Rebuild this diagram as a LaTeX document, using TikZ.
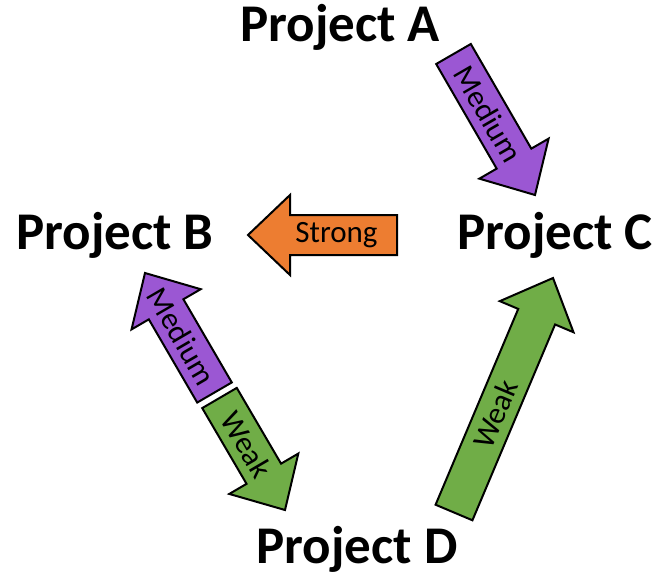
\documentclass[tikz,border=0pt]{standalone}
\usepackage{fontspec}
\setmainfont{Carlito}
\usetikzlibrary{calc,positioning}
\definecolor{purp}{HTML}{9B57D3}
\definecolor{orng}{HTML}{ED7D31}
\definecolor{grn}{HTML}{70AD47}
\tikzset{
  project/.style={anchor=base, font=\bfseries\fontsize{53}{60}\selectfont},
  blockarrow/.style={draw=black, line width=2pt, line join=miter},
  arrowtext/.style={font=\fontsize{31}{36}\selectfont, inner sep=0pt}
}
% block arrow: [text pos] {tail} {tip} {colour} {text}
\newcommand{\bigarrow}[5][0.42]{%
  \draw[blockarrow, fill=#4] let \p1=($(#3)-(#2)$), \n1={atan2(\y1,\x1)}, \n2={veclen(\x1,\y1)} in
    [shift={(#2)}, rotate=\n1]
    (0,-20) -- (\n2-42,-20) -- (\n2-42,-40) -- (\n2,0) -- (\n2-42,40) -- (\n2-42,20) -- (0,20) -- cycle;
  \path (#2) -- (#3) node[pos=#1, sloped, arrowtext] {#5};
}

\begin{document}
\begin{tikzpicture}[x=1pt, y=-1pt]
\useasboundingbox (0,0) rectangle (664,575);

\node[project] (pA) at (340,42) {Project A};
\node[project] (pB) at (115,249) {Project B};
\node[project] (pC) at (555,249) {Project C};
\node[project] (pD) at (357,563) {Project D};

% arrow ends
\coordinate (acT) at (453.5,54);
\coordinate (acH) at (535,195);
\coordinate (cbT) at (397,235);
\coordinate (cbH) at (248,235);
\coordinate (dbT) at (214.5,392.5);
\coordinate (dbH) at (145,273);
\coordinate (bdT) at (219.5,398);
\coordinate (bdH) at (285,510);
\coordinate (dcT) at (454,512.5);
\coordinate (dcH) at (553,278);

\bigarrow[0.425]{acT}{acH}{purp}{Medium}
\bigarrow[0.406]{cbT}{cbH}{orng}{Strong}
\bigarrow[0.47]{dbT}{dbH}{purp}{Medium}
\bigarrow[0.416]{bdT}{bdH}{grn}{Weak}
\bigarrow[0.42]{dcT}{dcH}{grn}{Weak}
\end{tikzpicture}
\end{document}
